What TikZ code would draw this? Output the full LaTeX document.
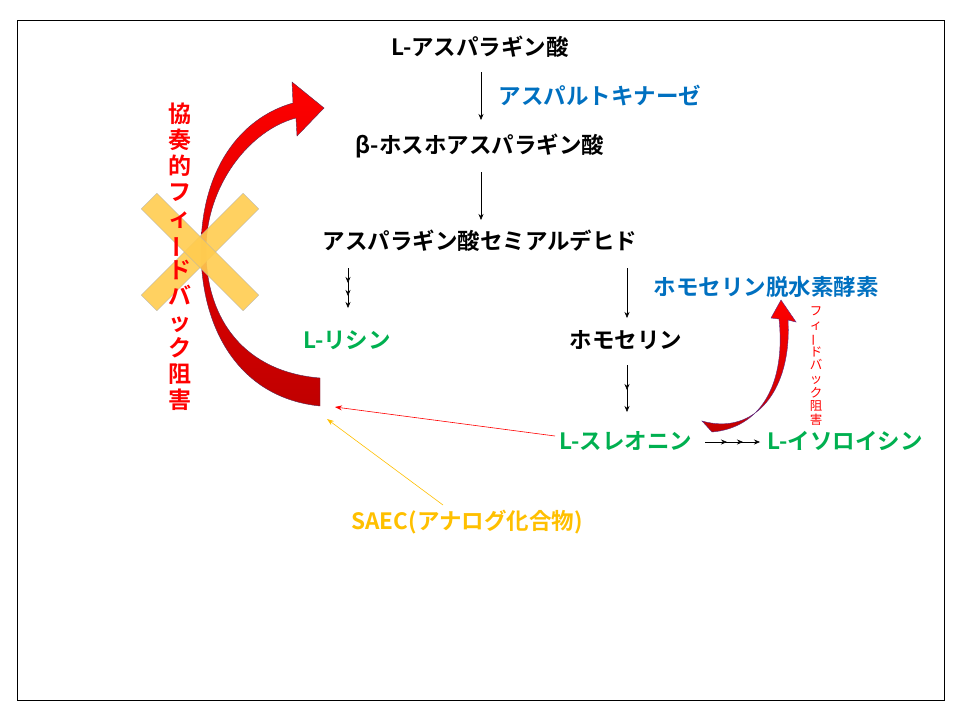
\documentclass[tikz,border=0pt]{standalone}
\usepackage{fontspec}
\usepackage{graphicx}
\setmainfont{Noto Sans CJK JP}[BoldFont={Noto Sans CJK JP Bold}]
\usetikzlibrary{arrows.meta}
\definecolor{bl}{RGB}{0,112,192}
\definecolor{gr}{RGB}{0,176,80}
\definecolor{ye}{RGB}{255,192,0}
\definecolor{xc}{RGB}{255,204,80}
\newcommand{\vbar}{\rotatebox[origin=c]{90}{ー}}
\begin{document}
\begin{tikzpicture}[x=1pt,y=-1pt,
  lbl/.style={font=\fontsize{22.5}{26}\selectfont\bfseries, inner sep=1pt},
  arr/.style={-{Stealth[length=6pt,width=5pt]}, line width=0.6pt},
  vtxt/.style={align=center, inner sep=0pt}]
\useasboundingbox (0,0) rectangle (960,720);
\fill[white] (0,0) rectangle (960,720);
\draw[line width=0.8pt] (17,20) rectangle (944,700);

\node[lbl] (asp) at (480,47) {L-アスパラギン酸};
\node[lbl,text=bl] (ak) at (600,95) {アスパルトキナーゼ};
\node[lbl] (pasp) at (480,146) {β-ホスホアスパラギン酸};
\node[lbl] (semi) at (480,241) {アスパラギン酸セミアルデヒド};
\node[lbl,text=gr] (lys) at (347,340) {L-リシン};
\node[lbl,text=bl] (hdh) at (766,287) {ホモセリン脱水素酵素};
\node[lbl] (hom) at (626,340) {ホモセリン};
\node[lbl,text=gr] (thr) at (626,441) {L-スレオニン};
\node[lbl,text=gr] (ile) at (845,441) {L-イソロイシン};
\node[lbl,text=ye] (saec) at (467,522) {SAEC(アナログ化合物)};

\coordinate (a1) at (481,72); \coordinate (a2) at (481,120);
\draw[arr] (a1) -- (a2);
\coordinate (b1) at (481,172); \coordinate (b2) at (481,220);
\draw[arr] (b1) -- (b2);
\coordinate (c1) at (348,268); \coordinate (c2) at (348,308);
\draw[arr] (c1) -- (348,283); \draw[arr] (348,281) -- (348,296); \draw[arr] (348,294) -- (c2);
\coordinate (d1) at (627,268); \coordinate (d2) at (627,318);
\draw[arr] (d1) -- (d2);
\coordinate (e1) at (627,365); \coordinate (e2) at (627,412);
\draw[arr] (e1) -- (627,390); \draw[arr] (627,388) -- (e2);
\coordinate (f1) at (705,442); \coordinate (f2) at (760,442);
\draw[arr] (f1) -- (727,442); \draw[arr] (725,442) -- (743,442); \draw[arr] (741,442) -- (f2);

\coordinate (r1) at (555,436); \coordinate (r2) at (335,407);
\draw[-{Stealth[length=7pt,width=5pt]}, red, line width=0.6pt] (r1) -- (r2);
\coordinate (y1) at (443,505); \coordinate (y2) at (327,419);
\draw[-{Stealth[length=7pt,width=5pt]}, ye, line width=0.6pt] (y1) -- (y2);

% big curved arrow
\path[top color=red, bottom color={rgb,255:red,192;green,0;blue,0}, draw={rgb,255:red,90;green,40;blue,80}, line width=0.4pt]
 (320,406) .. controls (240,398) and (201,330) .. (201,250)
 .. controls (201,170) and (240,118) .. (293,103) -- (292,82) -- (324,108) -- (297,136) -- (296,118)
 .. controls (250,130) and (206,185) .. (206,250)
 .. controls (206,320) and (245,372) .. (320,378) -- cycle;

% yellow X
\begin{scope}[shift={(200,252)}]
\fill[xc, opacity=0.9, draw=gray!60, line width=0.3pt, rotate=45] (-72,-11) rectangle (72,11);
\fill[xc, opacity=0.9, draw=gray!60, line width=0.3pt, rotate=-45] (-72,-11) rectangle (72,11);
\end{scope}

\node[vtxt, text=red, font=\fontsize{23}{26}\selectfont\bfseries] (vt) at (180,257)
 {協\\奏\\的\\フ\\ィ\\\vbar\\ド\\バ\\ッ\\ク\\阻\\害};

% small curved arrow
\path[top color=red, bottom color={rgb,255:red,192;green,0;blue,0}, draw={rgb,255:red,90;green,40;blue,130}, line width=0.4pt]
 (702,421) .. controls (755,436) and (792,390) .. (788,320) -- (796,322) -- (781,300) -- (771,318) -- (779,319)
 .. controls (786,385) and (760,428) .. (712,432) -- cycle;
\node[vtxt, text=red, font=\fontsize{12.5}{13.6}\selectfont] (vt2) at (816,366)
 {フ\\ィ\\\vbar\\ド\\バ\\ッ\\ク\\阻\\害};
\end{tikzpicture}
\end{document}
